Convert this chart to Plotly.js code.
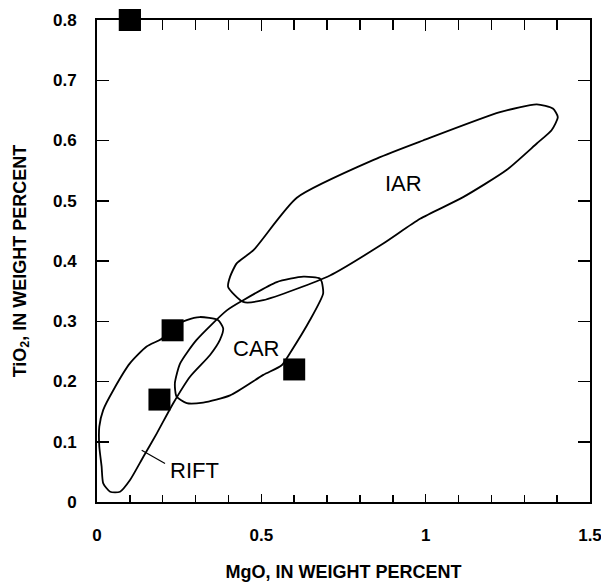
<!DOCTYPE html>
<html>
<head>
<meta charset="utf-8">
<script src="https://cdn.plot.ly/plotly-3.0.1.min.js"></script>
<style>html,body{margin:0;padding:0;background:#fff;}#chart{width:601px;height:582px;}</style>
</head>
<body>
<div id="chart"></div>
<script>
// Field outlines (MgO, TiO2 in weight percent)
const iarMgO  = [0.476, 0.608, 0.851, 0.992, 1.226, 1.338, 1.387, 1.402, 1.383, 1.338, 1.246, 1.114, 0.983, 0.871, 0.709, 0.506, 0.445, 0.399, 0.405, 0.425, 0.476];
const iarTiO2 = [0.418, 0.505, 0.570, 0.600, 0.647, 0.660, 0.653, 0.639, 0.617, 0.595, 0.551, 0.506, 0.470, 0.429, 0.376, 0.335, 0.332, 0.357, 0.374, 0.396, 0.418];

const carMgO  = [0.684, 0.688, 0.648, 0.587, 0.562, 0.506, 0.405, 0.323, 0.273, 0.242, 0.237, 0.253, 0.303, 0.395, 0.445, 0.547, 0.628, 0.678, 0.684];
const carTiO2 = [0.365, 0.346, 0.302, 0.247, 0.227, 0.211, 0.177, 0.165, 0.164, 0.175, 0.197, 0.230, 0.269, 0.318, 0.335, 0.365, 0.374, 0.371, 0.365];

const riftMgO  = [0.273, 0.313, 0.368, 0.384, 0.374, 0.344, 0.283, 0.232, 0.182, 0.141, 0.100, 0.070, 0.040, 0.019, 0.014, 0.007, 0.007, 0.019, 0.050, 0.100, 0.151, 0.197, 0.232, 0.273];
const riftTiO2 = [0.302, 0.307, 0.302, 0.288, 0.269, 0.244, 0.208, 0.164, 0.114, 0.075, 0.036, 0.017, 0.017, 0.031, 0.059, 0.092, 0.125, 0.153, 0.186, 0.230, 0.258, 0.271, 0.291, 0.302];

// Leader line for RIFT label
const riftLeaderMgO  = [0.136, 0.207];
const riftLeaderTiO2 = [0.086, 0.064];

// Samples (black squares)
const sampleMgO  = [0.10, 0.23, 0.19, 0.60];
const sampleTiO2 = [0.80, 0.285, 0.17, 0.22];

// Field labels
const fieldNames = ['IAR', 'CAR', 'RIFT'];
const fieldLabelMgO  = [0.932, 0.484, 0.297];
const fieldLabelTiO2 = [0.528, 0.255, 0.053];

const xTickVals = [0, 0.5, 1, 1.5];
const xTickText = ['0', '0.5', '1', '1.5'];
const yTickVals = [0, 0.1, 0.2, 0.3, 0.4, 0.5, 0.6, 0.7, 0.8];
const yTickText = ['0', '0.1', '0.2', '0.3', '0.4', '0.5', '0.6', '0.7', '0.8'];

const lineStyle = {color: '#000', width: 1.8, shape: 'spline', smoothing: 0.6};

const traces = [
  {x: iarMgO, y: iarTiO2, mode: 'lines', line: lineStyle, hoverinfo: 'skip'},
  {x: carMgO, y: carTiO2, mode: 'lines', line: lineStyle, hoverinfo: 'skip'},
  {x: riftMgO, y: riftTiO2, mode: 'lines', line: lineStyle, hoverinfo: 'skip'},
  {x: riftLeaderMgO, y: riftLeaderTiO2, mode: 'lines', line: {color: '#000', width: 1.2}, hoverinfo: 'skip'},
  {x: sampleMgO, y: sampleTiO2, mode: 'markers', cliponaxis: false,
   marker: {symbol: 'square', size: 22, color: '#000', line: {width: 0}}},
  {x: [0.1], y: [0.8], xaxis: 'x2', yaxis: 'y', mode: 'markers', marker: {size: 22, symbol: 'square', color: '#000'}, cliponaxis: false, hoverinfo: 'skip'}
];

const tickFont = {family: 'Liberation Sans, Arial, sans-serif', size: 17, color: '#000', weight: 'bold'};
const titleFont = {family: 'Liberation Sans, Arial, sans-serif', size: 18, color: '#000', weight: 'bold'};

const layout = {
  width: 601, height: 582,
  margin: {l: 97, r: 11, t: 20, b: 80},
  paper_bgcolor: '#fff', plot_bgcolor: '#fff',
  showlegend: false,
  font: {family: 'Liberation Sans, Arial, sans-serif', color: '#000'},
  xaxis: {
    range: [0, 1.5], tickvals: xTickVals, ticktext: xTickText,
    ticks: 'inside', ticklen: 8, tickwidth: 1.5, tickcolor: '#000',
    minor: {dtick: 0.1, ticks: 'inside', ticklen: 7, tickwidth: 1.5, tickcolor: '#000'},
    showline: true, linecolor: '#000', linewidth: 2,
    showgrid: false, zeroline: false,
    tickfont: tickFont, ticklabelstandoff: 17, ticklabeloverflow: 'allow',
    title: {text: 'MgO, IN WEIGHT PERCENT', font: titleFont, standoff: 24}
  },
  xaxis2: {
    range: [0, 1.5], overlaying: 'x', side: 'top', anchor: 'y',
    tickvals: xTickVals, showticklabels: false,
    ticks: 'inside', ticklen: 11, tickwidth: 1.5, tickcolor: '#000',
    minor: {dtick: 0.1, ticks: 'inside', ticklen: 10, tickwidth: 1.5, tickcolor: '#000'},
    showline: true, linecolor: '#000', linewidth: 2,
    showgrid: false, zeroline: false
  },
  yaxis: {
    range: [0, 0.8], tickvals: yTickVals, ticktext: yTickText,
    ticks: 'inside', ticklen: 12, tickwidth: 1.5, tickcolor: '#000',
    mirror: 'ticks',
    showline: true, linecolor: '#000', linewidth: 2,
    showgrid: false, zeroline: false,
    tickfont: tickFont, ticklabelstandoff: 15,
    title: {text: 'TiO<sub>2</sub>, IN WEIGHT PERCENT', font: titleFont, standoff: 22}
  },
  annotations: fieldNames.map((t, i) => ({
    x: fieldLabelMgO[i], y: fieldLabelTiO2[i], xref: 'x', yref: 'y',
    text: t, showarrow: false,
    font: {family: 'Liberation Sans, Arial, sans-serif', size: 22, color: '#000'}
  }))
};

Plotly.newPlot('chart', traces, layout, {staticPlot: true, displayModeBar: false});
</script>
</body>
</html>
